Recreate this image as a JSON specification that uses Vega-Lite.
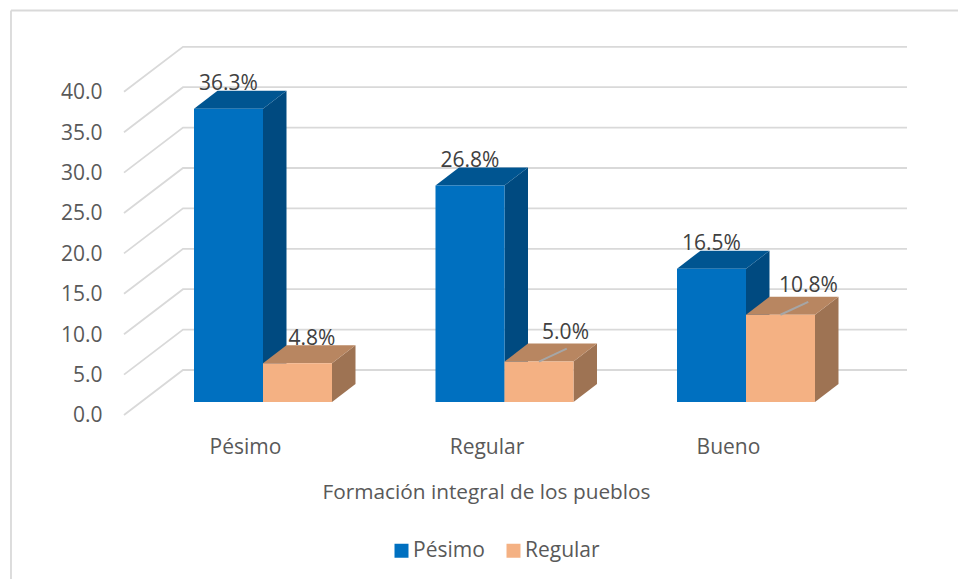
{
"$schema":"https://vega.github.io/schema/vega-lite/v6.json",
"width":958,"height":579,"padding":0,"autosize":{"type":"none"},
"background":"white",
"config":{"view":{"stroke":null},"font":"Open Sans"},
"datasets":{
"bars":[
{"category":"Pésimo","serie":"Pésimo","value":36.3},
{"category":"Regular","serie":"Pésimo","value":26.8},
{"category":"Bueno","serie":"Pésimo","value":16.5},
{"category":"Pésimo","serie":"Regular","value":4.8},
{"category":"Regular","serie":"Regular","value":5.0},
{"category":"Bueno","serie":"Regular","value":10.8}],
"ticks":[{"tick":0},{"tick":5},{"tick":10},{"tick":15},{"tick":20},{"tick":25},{"tick":30},{"tick":35},{"tick":40}]
},
"layer":[
{"data":{"name":"ticks"},
 "transform":[{"calculate":"[0,1,2]","as":"t"},{"flatten":["t"]},
  {"calculate":"[0.42443,0.66874,3.66667][datum.t]","as":"gx"},
  {"calculate":"datum.tick+(datum.t==0?-1.61:3.96)","as":"gy"}],
 "mark":{"type":"line","color":"#D9D9D9","strokeWidth":1.8},
 "encoding":{
  "x":{"field":"gx","type":"quantitative","scale":{"domain":[-0.08903,3.87785],"nice":false,"zero":false},
   "axis":{"values":[1,2,3],"labelExpr":"['','Pésimo','Regular','Bueno'][datum.value]","orient":"bottom","offset":-168,"domain":false,"ticks":false,"grid":false,"labelOffset":-18,"labelPadding":25,"labelFontSize":21,"labelColor":"#595959","labelFont":"Open Sans","title":"Formación integral de los pueblos","titleFontSize":20.8,"titleFontWeight":"normal","titleColor":"#595959","titleFont":"Open Sans","titleX":486,"titleY":81,"titleBaseline":"middle","titleAnchor":"middle"}},
  "y":{"field":"gy","type":"quantitative","scale":{"domain":[-21.906,49.752],"nice":false,"zero":false},
   "axis":{"values":[0,5,10,15,20,25,30,35,40],"format":".1f","orient":"left","offset":-102,"domain":false,"ticks":false,"grid":false,"labelOffset":14,"labelPadding":0,"labelFontSize":21,"labelColor":"#595959","labelFont":"Open Sans","title":null}},
  "detail":{"field":"tick"},
  "order":{"field":"t"}}},
{"data":{"values":[{"edge":"border"}]},
 "mark":{"type":"rule","color":"#D9D9D9","strokeWidth":1.8},
 "encoding":{"x":{"datum":-0.0435},"x2":{"datum":3.87785},"y":{"datum":48.45}}},
{"data":{"values":[{"edge":"border"}]},
 "mark":{"type":"rule","color":"#D9D9D9","strokeWidth":1.8},
 "encoding":{"x":{"datum":-0.0435},"y":{"datum":48.45},"y2":{"datum":-21.906}}},
{"data":{"name":"bars"},
 "transform":[{"calculate":"indexof(['Pésimo','Regular','Bueno'],datum.category)+1+(datum.serie=='Pésimo'?0:0.2857)","as":"xr"},
  {"calculate":"[0,1]","as":"t"},{"flatten":["t"]},
  {"calculate":"datum.xr+datum.t*0.0973","as":"sx"},
  {"calculate":"datum.value+datum.t*2.228","as":"sy"},
  {"calculate":"datum.t*2.228","as":"sb"}],
 "mark":{"type":"area","orient":"vertical"},
 "encoding":{"x":{"field":"sx","type":"quantitative"},
  "y":{"field":"sy","type":"quantitative"},"y2":{"field":"sb"},
  "detail":[{"field":"category"},{"field":"serie"}],
  "color":{"condition":{"test":"datum.serie=='Pésimo'","value":"#004A80"},"value":"#9E7353"}}},
{"data":{"name":"bars"},
 "transform":[{"calculate":"indexof(['Pésimo','Regular','Bueno'],datum.category)+1+(datum.serie=='Pésimo'?0:0.2857)","as":"xr"},
  {"calculate":"[0,1]","as":"t"},{"flatten":["t"]},
  {"calculate":"datum.xr+datum.t*0.0973","as":"tx2"},
  {"calculate":"datum.xr-0.2857+datum.t*0.0973","as":"tx"},
  {"calculate":"datum.value+datum.t*2.228","as":"ty"}],
 "mark":{"type":"area","orient":"horizontal"},
 "encoding":{"x":{"field":"tx","type":"quantitative"},"x2":{"field":"tx2"},
  "y":{"field":"ty","type":"quantitative"},
  "detail":[{"field":"category"},{"field":"serie"}],
  "color":{"condition":{"test":"datum.serie=='Pésimo'","value":"#005591"},"value":"#B88661"}}},
{"data":{"name":"bars"},
 "transform":[{"calculate":"indexof(['Pésimo','Regular','Bueno'],datum.category)+1+(datum.serie=='Pésimo'?0:0.2857)","as":"xr"},
  {"calculate":"datum.xr-0.2857","as":"xl"}],
 "mark":{"type":"rect"},
 "encoding":{"x":{"field":"xl","type":"quantitative"},"x2":{"field":"xr"},
  "y":{"field":"value","type":"quantitative"},"y2":{"datum":0},
  "color":{"field":"serie","type":"nominal","scale":{"domain":["Pésimo","Regular"],"range":["#0070C0","#F4B183"]},
   "legend":{"orient":"none","legendX":391,"legendY":540,"direction":"horizontal","columns":2,"title":null,"symbolType":"square","symbolSize":196,"symbolStrokeWidth":0,"labelFontSize":21,"labelColor":"#595959","labelFont":"Open Sans","columnPadding":18,"labelOffset":1}}}},
{"data":{"name":"bars"},
 "transform":[{"filter":"datum.serie=='Regular' && datum.category!='Pésimo'"},
  {"calculate":"indexof(['Pésimo','Regular','Bueno'],datum.category)+1+0.1428","as":"cx"},
  {"calculate":"[0,1]","as":"t"},{"flatten":["t"]},
  {"calculate":"datum.cx+datum.t*0.115","as":"lx"},
  {"calculate":"datum.value+datum.t*1.6","as":"ly"}],
 "mark":{"type":"line","color":"#A6A6A6","strokeWidth":2},
 "encoding":{"x":{"field":"lx","type":"quantitative"},"y":{"field":"ly","type":"quantitative"},"detail":{"field":"category"}}},
{"data":{"name":"bars"},
 "transform":[{"calculate":"indexof(['Pésimo','Regular','Bueno'],datum.category)","as":"i"},
  {"calculate":"datum.serie=='Pésimo'?datum.i+1-0.1428:datum.i+1+0.1428+[0.06,0.11,0.116][datum.i]","as":"lx"},
  {"calculate":"datum.value+((datum.serie=='Regular'&&datum.i>0)?3.6:3.0)","as":"ly"},
  {"calculate":"format(datum.value,'.1f')+'%'","as":"lab"}],
 "mark":{"type":"text","fontSize":21,"color":"#404040","font":"Open Sans","baseline":"middle","align":"center"},
 "encoding":{"x":{"field":"lx","type":"quantitative"},"y":{"field":"ly","type":"quantitative"},"text":{"field":"lab"}}}
]
}
